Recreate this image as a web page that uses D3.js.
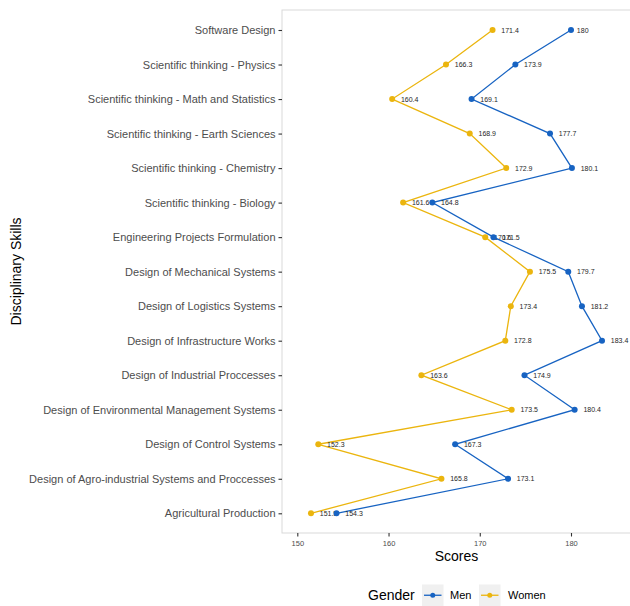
<!DOCTYPE html>
<html>
<head>
<meta charset="utf-8">
<script src="https://cdn.jsdelivr.net/npm/d3@7"></script>
<style>
  html, body { margin: 0; padding: 0; background: #ffffff; }
  svg { display: block; font-family: "Liberation Sans", Arial, Helvetica, sans-serif; }
</style>
</head>
<body>
<svg id="chart" width="630" height="606"></svg>
<script>
// Disciplinary skills, listed top to bottom
const skills = [
  "Software Design",
  "Scientific thinking - Physics",
  "Scientific thinking - Math and Statistics",
  "Scientific thinking - Earth Sciences",
  "Scientific thinking - Chemistry",
  "Scientific thinking - Biology",
  "Engineering Projects Formulation",
  "Design of Mechanical Systems",
  "Design of Logistics Systems",
  "Design of Infrastructure Works",
  "Design of Industrial Proccesses",
  "Design of Environmental Management Systems",
  "Design of Control Systems",
  "Design of Agro-industrial Systems and Proccesses",
  "Agricultural Production"
];

// Mean scores by gender, same order as skills
const menScores = [180, 173.9, 169.1, 177.7, 180.1, 164.8, 171.5, 179.7, 181.2, 183.4, 174.9, 180.4, 167.3, 173.1, 154.3];
const womenScores = [171.4, 166.3, 160.4, 168.9, 172.9, 161.6, 170.6, 175.5, 173.4, 172.8, 163.6, 173.5, 152.3, 165.8, 151.5];

const genders = ["Men", "Women"];
const genderColors = ["#1763c2", "#ebb50e"];
const xTicks = [150, 160, 170, 180];

const svg = d3.select("#chart");

const panel = { left: 282, top: 10, right: 631, bottom: 533 };

const x = d3.scaleLinear().domain([150, 180]).range([297.3, 571.0]);
const y = d3.scalePoint().domain(skills).range([30, 513.3]);
const color = d3.scaleOrdinal().domain(genders).range(genderColors);

// Panel frame
svg.append("rect")
  .attr("x", panel.left).attr("y", panel.top)
  .attr("width", panel.right - panel.left).attr("height", panel.bottom - panel.top)
  .attr("fill", "#ffffff").attr("stroke", "#d9d9d9").attr("stroke-width", 1);

// Y axis (categories)
const yAxis = svg.append("g")
  .attr("transform", `translate(${panel.left},0)`)
  .call(d3.axisLeft(y).tickSize(3.5).tickPadding(3));
yAxis.select(".domain").remove();
yAxis.selectAll(".tick line").attr("stroke", "#333333").attr("stroke-width", 1.1);
yAxis.selectAll(".tick text")
  .attr("fill", "#4d4d4d").attr("font-size", 11)
  .attr("font-family", "'Liberation Sans', Arial, sans-serif");

// X axis
const xAxis = svg.append("g")
  .attr("transform", `translate(0,${panel.bottom})`)
  .call(d3.axisBottom(x).tickValues(xTicks).tickSize(3.5).tickPadding(4).tickFormat(d3.format("d")));
xAxis.select(".domain").remove();
xAxis.selectAll(".tick line").attr("stroke", "#333333").attr("stroke-width", 1.1);
xAxis.selectAll(".tick text")
  .attr("fill", "#4d4d4d").attr("font-size", 7.5)
  .attr("font-family", "'Liberation Sans', Arial, sans-serif");

// Axis titles
svg.append("text")
  .attr("x", (panel.left + panel.right) / 2).attr("y", 561)
  .attr("text-anchor", "middle").attr("font-size", 14).attr("fill", "#000")
  .text("Scores");

svg.append("text")
  .attr("transform", `translate(21,${(panel.top + panel.bottom) / 2}) rotate(-90)`)
  .attr("text-anchor", "middle").attr("font-size", 14).attr("fill", "#000")
  .text("Disciplinary Skills");

// Series
const series = [
  { name: "Women", values: womenScores },
  { name: "Men", values: menScores }
];

const line = d3.line()
  .x(d => x(d.v))
  .y(d => y(d.s));

series.forEach(ser => {
  const pts = skills.map((s, i) => ({ s, v: ser.values[i] }));
  const g = svg.append("g").attr("class", "series-" + ser.name);
  g.append("path")
    .datum(pts)
    .attr("d", line)
    .attr("fill", "none")
    .attr("stroke", color(ser.name))
    .attr("stroke-width", 1.3);
  g.selectAll("circle")
    .data(pts)
    .join("circle")
    .attr("cx", d => x(d.v))
    .attr("cy", d => y(d.s))
    .attr("r", 3)
    .attr("fill", color(ser.name));
  g.selectAll("text")
    .data(pts)
    .join("text")
    .attr("y", d => y(d.s) + 2.5)
    .attr("font-size", 7)
    .attr("fill", "#262626")
    .text(d => String(d.v))
    .attr("x", function (d) {
      // label offset by half its own width to the right of the point
      return x(d.v) + this.getComputedTextLength() * 0.5;
    });
});

// Legend
const legend = svg.append("g");
legend.append("text")
  .attr("x", 368).attr("y", 600)
  .attr("font-size", 14).attr("fill", "#000")
  .text("Gender");

const keyItems = [
  { name: "Men", keyX: 422, textX: 450 },
  { name: "Women", keyX: 479, textX: 508 }
];
keyItems.forEach(k => {
  const kg = legend.append("g");
  kg.append("rect")
    .attr("x", k.keyX).attr("y", 584.5)
    .attr("width", 21.5).attr("height", 21.5)
    .attr("fill", "#f0f0f0");
  kg.append("line")
    .attr("x1", k.keyX + 2).attr("x2", k.keyX + 19.5)
    .attr("y1", 595.25).attr("y2", 595.25)
    .attr("stroke", color(k.name)).attr("stroke-width", 1.3);
  kg.append("circle")
    .attr("cx", k.keyX + 10.75).attr("cy", 595.25).attr("r", 2.5)
    .attr("fill", color(k.name));
  kg.append("text")
    .attr("x", k.textX).attr("y", 599)
    .attr("font-size", 11).attr("fill", "#000")
    .text(k.name);
});
</script>
</body>
</html>
